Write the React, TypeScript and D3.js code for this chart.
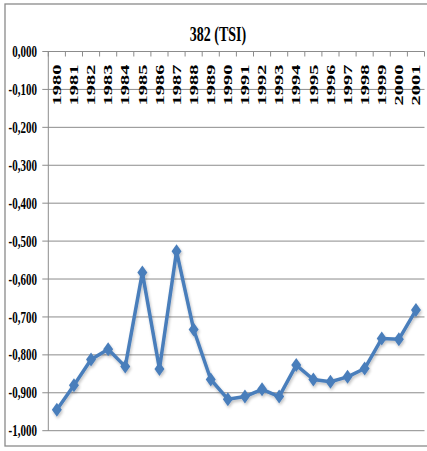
import React from "react";
import * as d3 from "d3";

const years = ["1980","1981","1982","1983","1984","1985","1986","1987","1988","1989","1990","1991","1992","1993","1994","1995","1996","1997","1998","1999","2000","2001"];
const values = [-0.945,-0.880,-0.812,-0.785,-0.831,-0.583,-0.837,-0.527,-0.733,-0.865,-0.917,-0.910,-0.891,-0.910,-0.827,-0.865,-0.871,-0.858,-0.836,-0.757,-0.759,-0.682];
const yTicks = [0,-0.1,-0.2,-0.3,-0.4,-0.5,-0.6,-0.7,-0.8,-0.9,-1.0];
const title = "382 (TSI)";

const W = 427, H = 451;
const plotLeft = 48.3, plotRight = 424.5, plotTop = 51.5, plotBottom = 430.7;

export default function App() {
  const x = d3.scaleBand<string>().domain(years).range([plotLeft, plotRight]);
  const y = d3.scaleLinear().domain([-1, 0]).range([plotBottom, plotTop]);
  const fmt = (v: number) => (v === 0 ? "0,000" : d3.format(".3f")(v).replace("−", "-").replace(".", ","));
  const line = d3.line<number>().x((_, i) => x(years[i])! + x.bandwidth() / 2).y(d => y(d));
  const font = "'Liberation Serif', 'Times New Roman', serif";
  const blue = "#4a7ebb";
  return (
    <svg width={W} height={H} style={{ position: "absolute", left: 0, top: 0, background: "#fff" }}>
      <defs>
        <filter id="sh" x="-10%" y="-10%" width="120%" height="130%">
          <feGaussianBlur in="SourceAlpha" stdDeviation="1.5" />
          <feOffset dx="1" dy="2" result="b" />
          <feComponentTransfer><feFuncA type="linear" slope="0.25" /></feComponentTransfer>
          <feMerge><feMergeNode /><feMergeNode in="SourceGraphic" /></feMerge>
        </filter>
      </defs>
      <rect x={5} y={4} width={W} height={442} fill="#fff" stroke="#8a8a8a" strokeWidth={1.3} />
      <g transform={`translate(218,33) scale(1,1.55)`}>
        <text textAnchor="middle" dy="0.35em" fontFamily={font} fontWeight="bold" fontSize={14} fill="#000">{title}</text>
      </g>
      {yTicks.map(t => (
        <g key={t}>
          <line x1={plotLeft - 6} x2={plotRight} y1={y(t)} y2={y(t)} stroke="#8c8c8c" strokeWidth={1} />
          <g transform={`translate(37,${y(t)}) scale(1,1.45)`}>
            <text textAnchor="end" dy="0.35em" fontFamily={font} fontWeight="bold" fontSize={11} fill="#000">{fmt(t)}</text>
          </g>
        </g>
      ))}
      <line x1={plotLeft} x2={plotLeft} y1={plotTop} y2={plotBottom} stroke="#8c8c8c" strokeWidth={1} />
      {years.map((yr, i) => (
        <line key={"t" + yr} x1={x(yr)!} x2={x(yr)!} y1={y(0)} y2={y(0) + 5} stroke="#8c8c8c" strokeWidth={1} />
      ))}
      <line x1={plotRight} x2={plotRight} y1={y(0)} y2={y(0) + 5} stroke="#8c8c8c" strokeWidth={1} />
      {years.map(yr => (
        <g key={"l" + yr} transform={`translate(${x(yr)! + x.bandwidth() / 2},85) rotate(-90) scale(1.7,1)`}>
          <text textAnchor="middle" dy="0.35em" fontFamily={font} fontWeight="bold" fontSize={12} fill="#000">{yr}</text>
        </g>
      ))}
      <g filter="url(#sh)">
        <path d={line(values)!} fill="none" stroke={blue} strokeWidth={3.5} strokeLinejoin="round" />
        {values.map((v, i) => {
          const cx = x(years[i])! + x.bandwidth() / 2, cy = y(v);
          return <path key={"m" + i} d={`M${cx},${cy - 7}L${cx + 5},${cy}L${cx},${cy + 7}L${cx - 5},${cy}Z`} fill={blue} />;
        })}
      </g>
    </svg>
  );
}
